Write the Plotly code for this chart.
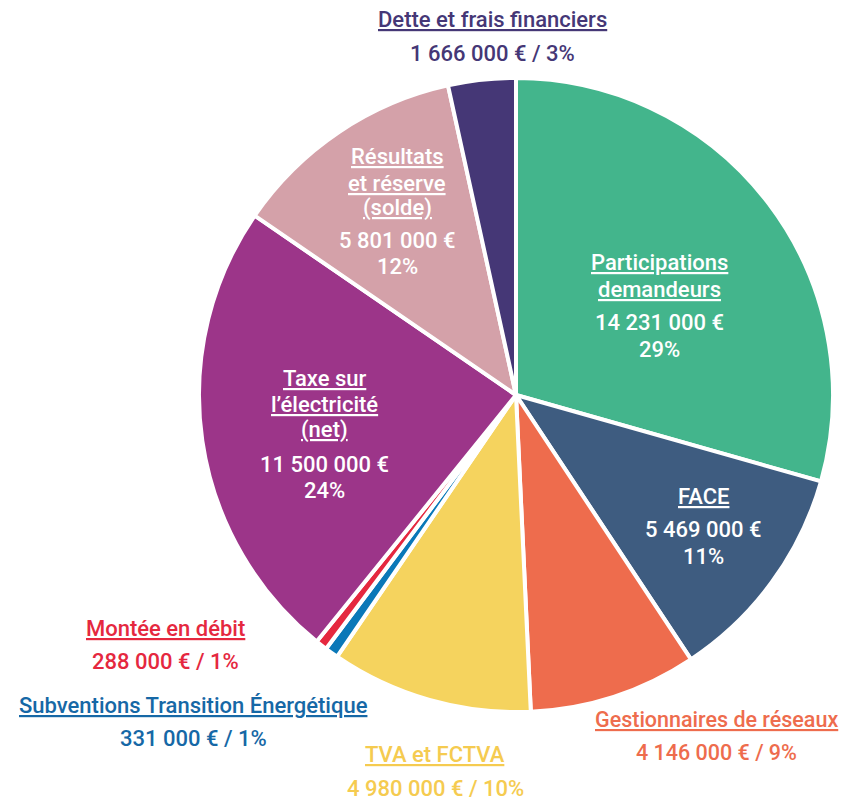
import plotly.graph_objects as go

labels = ["Participations demandeurs", "FACE", "Gestionnaires de réseaux", "TVA et FCTVA",
          "Subventions Transition Énergétique", "Montée en débit", "Taxe sur l'électricité (net)",
          "Résultats et réserve (solde)", "Dette et frais financiers"]
values = [14231000, 5469000, 4146000, 4980000, 331000, 288000, 11500000, 5801000, 1666000]
colors = ["#43B58C", "#3E5C80", "#EE6C4D", "#F5D35E", "#0A78B8", "#E5283F", "#9C3589", "#D4A1A9", "#453776"]
title_lines = [["Participations", "demandeurs"], ["FACE"], ["Gestionnaires de réseaux"], ["TVA et FCTVA"],
               ["Subventions Transition Énergétique"], ["Montée en débit"],
               ["Taxe sur", "l’électricité", "(net)"], ["Résultats", "et réserve", "(solde)"],
               ["Dette et frais financiers"]]
text_colors = ["white", "white", "#EE6C4D", "#F5CB50", "#1668A6", "#E5283F", "white", "white", "#453776"]
inside = [True, True, False, False, False, False, True, True, False]
# label anchor positions (page pixels): x center, y center of each line
label_x = [659, 703, 716, 435, 193, 165, 324, 397, 492]
label_y = [[263, 289, 322, 349], [497, 529, 556], [719, 752], [754, 788], [705, 738], [628, 661],
           [378, 404, 430, 464, 490], [157, 183, 208, 240, 266], [20, 53]]
label_size = [22, 22, 21.5, 22, 22, 22, 22, 22, 22]

OFF = 8  # page body margin
W, H = 851 - OFF, 801 - OFF
total = sum(values)

def fmt(v):
    return f"{v:,}".replace(",", " ") + " €"

def px(x):
    return (x - OFF) / W

def py(y):
    return 1 - (y - OFF) / H

cx, cy, r = 516, 395, 317
fig = go.Figure(go.Pie(
    labels=labels, values=values, sort=False, direction="clockwise", rotation=0,
    marker=dict(colors=colors, line=dict(color="white", width=4)),
    textinfo="none", hoverinfo="label+value+percent", showlegend=False,
    domain=dict(x=[px(cx - r), px(cx + r)], y=[py(cy + r), py(cy - r)]),
))

FONT = "Roboto"
for i, lab in enumerate(labels):
    pct = round(values[i] / total * 100)
    lines = [f"<u>{l}</u>" for l in title_lines[i]]
    if inside[i]:
        lines += [fmt(values[i]), f"{pct}%"]
    else:
        lines += [f"{fmt(values[i])} / {pct}%"]
    for txt, yy in zip(lines, label_y[i]):
        fig.add_annotation(x=px(label_x[i]), y=py(yy), xref="paper", yref="paper", text=txt,
                           showarrow=False, xanchor="center", yanchor="middle", align="center",
                           font=dict(family=FONT, size=label_size[i], color=text_colors[i], weight=500))

fig.update_layout(width=W, height=H, margin=dict(l=0, r=0, t=0, b=0),
                  paper_bgcolor="white", plot_bgcolor="white")
fig.write_html("out.html")
